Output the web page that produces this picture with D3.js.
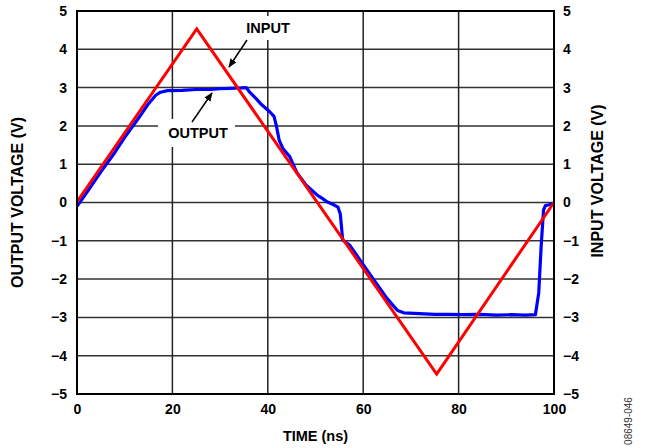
<!DOCTYPE html>
<html>
<head>
<meta charset="utf-8">
<script src="https://cdn.jsdelivr.net/npm/d3@7"></script>
<style>
  body { margin: 0; background: #fff; }
  text { font-family: "Liberation Sans", Arial, sans-serif; }
</style>
</head>
<body>
<div id="chart"></div>
<script>
// input triangle (ns, V)
const inputTime = [0, 25.1, 75.4, 100];
const inputVolts = [0.02, 4.53, -4.48, 0];

// output trace (ns, V)
const outputTime = [0, 2, 5, 8, 10, 13, 15, 16.5, 17.5, 19, 22, 25, 28, 30, 32, 34, 35.5, 36.2, 37.5, 38.5, 40.4, 41.3, 41.8, 42.4, 43.2, 44.6, 46.1, 48, 49.4, 50.5, 51.5, 52.4, 53.5, 54.7, 55.2, 55.7, 57.2, 60, 62.8, 64.9, 66.2, 67.2, 68.5, 71.8, 75, 78, 81, 84.4, 88, 91, 94, 96.1, 96.8, 97.3, 97.8, 98.2, 99, 99.8];
const outputVolts = [-0.1, 0.25, 0.8, 1.32, 1.7, 2.22, 2.58, 2.8, 2.88, 2.92, 2.93, 2.95, 2.95, 2.97, 2.98, 2.99, 3.0, 2.88, 2.72, 2.58, 2.37, 2.25, 2.0, 1.62, 1.4, 1.2, 0.78, 0.46, 0.3, 0.18, 0.1, 0.02, -0.04, -0.12, -0.3, -0.98, -1.12, -1.62, -2.12, -2.49, -2.68, -2.82, -2.88, -2.9, -2.92, -2.92, -2.93, -2.92, -2.94, -2.93, -2.94, -2.93, -2.36, -1.16, -0.2, -0.08, -0.06, -0.03];

const xTicks = [0, 20, 40, 60, 80, 100];
const yTicks = [-5, -4, -3, -2, -1, 0, 1, 2, 3, 4, 5];

const margin = { top: 11, right: 90, bottom: 54, left: 77 };
const width = 645;
const height = 448;

const svg = d3.select('#chart')
  .append('svg')
  .attr('width', width)
  .attr('height', height);

const x = d3.scaleLinear().domain([0, 100]).range([margin.left, width - margin.right - 1]);
const y = d3.scaleLinear().domain([-5, 5]).range([height - margin.bottom, margin.top]);

const fmt = d => (d < 0 ? '\u2212' + Math.abs(d) : String(d));

// grid
svg.append('g')
  .selectAll('line')
  .data(yTicks.slice(1, -1))
  .enter()
  .append('line')
  .attr('x1', x(0)).attr('x2', x(100))
  .attr('y1', d => y(d)).attr('y2', d => y(d))
  .attr('stroke', '#333')
  .attr('stroke-width', 1.5);
svg.append('g')
  .selectAll('line')
  .data(xTicks.slice(1, -1))
  .enter()
  .append('line')
  .attr('x1', d => x(d)).attr('x2', d => x(d))
  .attr('y1', y(-5)).attr('y2', y(5))
  .attr('stroke', '#222')
  .attr('stroke-width', 1.5);

// axes tick labels
const leftAxis = svg.append('g')
  .attr('transform', `translate(${x(0)},0)`)
  .call(d3.axisLeft(y).tickValues(yTicks).tickFormat(fmt).tickSize(0).tickPadding(10));
const rightAxis = svg.append('g')
  .attr('transform', `translate(${x(100)},0)`)
  .call(d3.axisRight(y).tickValues(yTicks).tickFormat(fmt).tickSize(0).tickPadding(9));
const bottomAxis = svg.append('g')
  .attr('transform', `translate(0,${y(-5)})`)
  .call(d3.axisBottom(x).tickValues(xTicks).tickFormat(fmt).tickSize(0).tickPadding(10));
[leftAxis, rightAxis, bottomAxis].forEach((a) => {
  a.select('.domain').remove();
  a.selectAll('text')
    .style('font-family', '"Liberation Sans", Arial, sans-serif')
    .style('font-size', '14px')
    .style('font-weight', 'bold')
    .attr('fill', '#000');
});

// lines
const line = d3.line().x(d => x(d[0])).y(d => y(d[1]));
svg.append('path')
  .datum(outputTime.map((t, i) => [t, outputVolts[i]]))
  .attr('d', line)
  .attr('fill', 'none')
  .attr('stroke', '#0000ff')
  .attr('stroke-width', 3.2)
  .attr('stroke-linejoin', 'round');
svg.append('path')
  .datum(inputTime.map((t, i) => [t, inputVolts[i]]))
  .attr('d', line)
  .attr('fill', 'none')
  .attr('stroke', '#ff0000')
  .attr('stroke-width', 3);

// frame
svg.append('rect')
  .attr('x', x(0)).attr('y', y(5))
  .attr('width', x(100) - x(0))
  .attr('height', y(-5) - y(5))
  .attr('fill', 'none')
  .attr('stroke', '#000')
  .attr('stroke-width', 2);

// annotations
svg.append('defs').append('marker')
  .attr('id', 'arr')
  .attr('viewBox', '0 0 10 10')
  .attr('refX', 9).attr('refY', 5)
  .attr('markerWidth', 9).attr('markerHeight', 9)
  .attr('markerUnits', 'userSpaceOnUse')
  .attr('orient', 'auto')
  .append('path')
  .attr('d', 'M0,1 L10,5 L0,9 Z')
  .attr('fill', '#000');

svg.append('rect').attr('x', 240).attr('y', 16).attr('width', 56).attr('height', 24).attr('fill', '#fff');
svg.append('text').attr('x', 268).attr('y', 33).attr('text-anchor', 'middle')
  .style('font-size', '14.5px').style('font-weight', 'bold').text('INPUT');
svg.append('line').attr('x1', 247).attr('y1', 40).attr('x2', 229).attr('y2', 67)
  .attr('stroke', '#000').attr('stroke-width', 1.5).attr('marker-end', 'url(#arr)');

svg.append('rect').attr('x', 158).attr('y', 119).attr('width', 77).attr('height', 28).attr('fill', '#fff');
svg.append('text').attr('x', 198).attr('y', 138).attr('text-anchor', 'middle')
  .style('font-size', '14.5px').style('font-weight', 'bold').text('OUTPUT');
svg.append('line').attr('x1', 192).attr('y1', 122).attr('x2', 212).attr('y2', 93)
  .attr('stroke', '#000').attr('stroke-width', 1.5).attr('marker-end', 'url(#arr)');

// axis titles
svg.append('text')
  .attr('transform', `translate(23,${y(0)}) rotate(-90)`)
  .attr('text-anchor', 'middle')
  .style('font-size', '16px').style('font-weight', 'bold')
  .text('OUTPUT VOLTAGE (V)');
svg.append('text')
  .attr('transform', `translate(603,181) rotate(-90)`)
  .attr('text-anchor', 'middle')
  .style('font-size', '16px').style('font-weight', 'bold')
  .text('INPUT VOLTAGE (V)');
svg.append('text')
  .attr('x', x(50)).attr('y', 441)
  .attr('text-anchor', 'middle')
  .style('font-size', '14.5px').style('font-weight', 'bold')
  .text('TIME (ns)');
svg.append('text')
  .attr('transform', 'translate(632,421) rotate(-90)')
  .attr('text-anchor', 'middle')
  .style('font-size', '10px')
  .attr('fill', '#333')
  .text('08649-046');
</script>
</body>
</html>
